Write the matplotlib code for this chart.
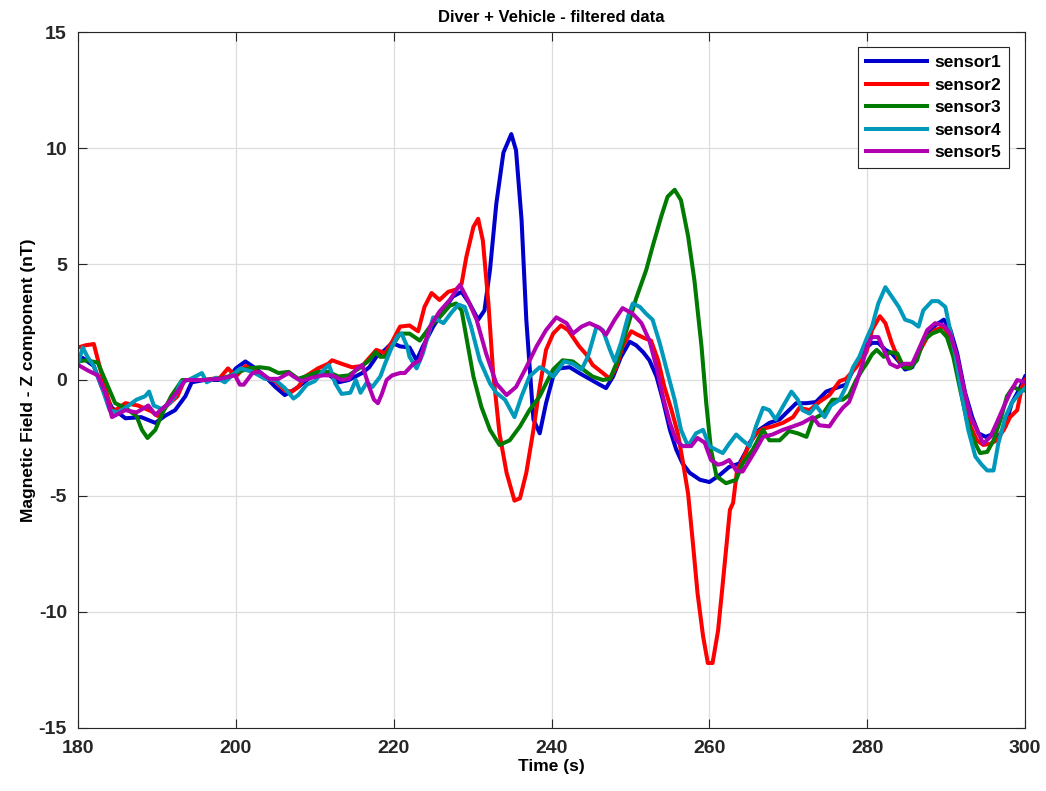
import matplotlib
matplotlib.use("Agg")
import matplotlib.pyplot as plt

plt.rcParams['font.family'] = ['Liberation Sans', 'DejaVu Sans']
plt.rcParams['font.weight'] = 'bold'
plt.rcParams['axes.unicode_minus'] = False

# ---- sensor traces: time (s) and Z-component field (nT) ----
t1 = [180, 180.6, 182, 183, 184.3, 186, 188, 189.8, 191, 192.3, 193.6, 194.4, 196, 198, 199, 200,
      201.2, 202.5, 203.7, 205, 206.2, 207, 207.9, 209.2, 210.4, 211.7, 213, 214.3, 216, 216.9,
      217.8, 218.9, 219.8, 220.8, 222, 222.9, 223.7, 225, 226.3, 227.5, 228.6, 229.6, 230.7,
      231.5, 232.2, 233, 233.9, 234.9, 235.5, 236.2, 236.8, 237.7, 238.5, 239.3, 240.2, 241,
      242.3, 243.5, 244.8, 246.1, 246.9, 247.8, 248.8, 249.9, 250.7, 251.6, 252.4, 253.3, 254.1,
      255, 255.8, 256.6, 257.5, 258.8, 260, 261.3, 262.5, 263.8, 264.6, 265.1, 266.3, 267.6,
      268.9, 270.1, 271, 272.3, 273.5, 274.8, 276, 277.3, 278.6, 279.9, 280.6, 281.4, 282.3,
      283.1, 284, 284.8, 285.7, 286.5, 287.6, 288.6, 289.7, 290.5, 291.4, 292.4, 293.3, 294.1,
      295, 295.8, 296.6, 297.5, 298.3, 299.2, 300]
s1 = [0.85, 0.95, 0.6, -0.3, -1.2, -1.65, -1.6, -1.85, -1.55, -1.3, -0.7, -0.1, 0.0, 0.0, 0.05, 0.5,
      0.8, 0.5, 0.15, -0.3, -0.65, -0.5, -0.3, 0.05, 0.3, 0.25, -0.1, 0.0, 0.3, 0.55,
      1.0, 1.3, 1.6, 1.45, 1.4, 0.85, 1.45, 2.3, 3.0, 3.6, 3.8, 3.3, 2.6,
      3.0, 4.75, 7.6, 9.8, 10.6, 9.9, 6.9, 2.6, -1.7, -2.3, -1.0, 0.15, 0.5,
      0.55, 0.3, 0.05, -0.2, -0.35, 0.15, 1.0, 1.65, 1.5, 1.2, 0.85, 0.15, -0.85,
      -2.15, -3.0, -3.6, -4.0, -4.3, -4.4, -4.1, -3.75, -3.6, -3.1, -2.7, -2.15, -1.85,
      -1.7, -1.3, -1.0, -1.0, -0.95, -0.5, -0.35, -0.2, 0.7, 1.4, 1.6, 1.6, 1.3,
      1.15, 0.8, 0.45, 0.55, 1.15, 2.0, 2.35, 2.6, 2.2, 1.15, -0.55, -1.6, -2.3,
      -2.45, -2.35, -2.45, -2.0, -1.0, -0.45, 0.15]

t2 = [180, 181, 182, 182.8, 184.3, 186, 187.6, 189.3, 190.1, 191.3, 192.6, 193.5, 196, 198, 199,
      200, 201.2, 202.5, 203.7, 205, 206.2, 207.1, 207.9, 208.8, 210.4, 211.7, 212.2, 213.4,
      214.7, 216, 216.9, 217.8, 218.9, 219.8, 220.8, 222, 223.1, 223.9, 224.8, 225.8, 226.9,
      227.9, 228.6, 229.2, 230.1, 230.7, 231.3, 232, 232.6, 233.4, 234.3, 235.3, 236, 236.8,
      237.7, 238.5, 239.3, 240.2, 241.2, 242.1, 243.5, 244.4, 245.2, 246.5, 247.4, 248.2, 249,
      250.1, 250.9, 251.8, 252.6, 253.5, 254.3, 255.2, 256, 256.6, 257.3, 257.9, 258.5, 259.2,
      259.8, 260.4, 261.1, 261.7, 262.6, 263, 263.5, 264.2, 265.1, 265.9, 266.8, 268, 269.3,
      270.6, 271.4, 272.7, 273.9, 275.2, 276.5, 277.3, 278.6, 279.9, 280.6, 281.6, 282.3,
      283.1, 284, 284.8, 285.7, 286.5, 287.6, 288.6, 289.7, 290.5, 291.4, 292.2, 293.1, 293.9,
      294.7, 295.6, 296.4, 297.3, 298.1, 299, 299.6, 300]
s2 = [1.4, 1.5, 1.55, 0.5, -1.4, -1.0, -1.1, -1.35, -1.55, -1.1, -0.7, 0.0, 0.0, 0.1, 0.5,
      0.15, 0.6, 0.4, 0.1, -0.05, -0.45, -0.5, -0.3, 0.15, 0.5, 0.7, 0.85, 0.7,
      0.55, 0.6, 0.95, 1.3, 1.15, 1.65, 2.3, 2.35, 2.1, 3.15, 3.75, 3.45, 3.8,
      3.9, 4.15, 5.3, 6.6, 6.95, 6.0, 3.3, 0.3, -2.3, -4.0, -5.2, -5.1, -4.0,
      -2.15, -0.3, 1.3, 2.0, 2.35, 2.15, 1.45, 1.1, 0.65, 0.3, 0.05, 0.55, 1.45,
      2.1, 1.95, 1.8, 1.7, 0.85, -0.3, -1.3, -2.3, -3.45, -4.9, -7.0, -9.2, -11.05,
      -12.2, -12.2, -10.8, -8.75, -5.6, -5.3, -3.9, -3.45, -2.75, -2.3, -2.1, -2.0, -1.85,
      -1.6, -1.2, -1.3, -0.95, -0.65, -0.05, 0.05, 0.55, 1.2, 2.15, 2.75, 2.45,
      1.6, 0.85, 0.55, 0.65, 1.15, 1.85, 2.15, 2.3, 1.85, 0.85, -0.85, -2.0, -2.6,
      -2.8, -2.75, -2.6, -2.15, -1.6, -1.3, -0.3, 0.0]

t3 = [180, 181, 182.5, 184.7, 186, 187.4, 188.1, 188.8, 189.8, 190.6, 191.8, 193.2, 196, 198,
      199.5, 200, 201.6, 203, 204.2, 205.4, 206.7, 207.9, 209.2, 210.4, 211.7, 213, 214.3,
      215.6, 216.9, 217.7, 218.3, 218.9, 219.8, 220.8, 222, 223.3, 224.6, 225.8, 227.1, 227.9,
      228.6, 229.2, 230.1, 231.1, 232.2, 233.4, 234.7, 236, 237.2, 238.5, 239.3, 240.2, 241.4,
      242.7, 244, 245.2, 246.5, 247.4, 248.2, 249.5, 250.7, 252, 252.8, 253.9, 254.7, 255.6,
      256.4, 257.3, 258.1, 259, 259.6, 260.2, 260.9, 262.1, 263.4, 264.2, 265.5, 266.8, 267.6,
      268.9, 270.1, 271.2, 272.3, 273.1, 274.4, 275.6, 276.9, 277.7, 278.6, 279.4, 280, 280.6,
      281.2, 282.1, 282.9, 283.8, 284.6, 285.4, 286.3, 287.1, 288.2, 289.3, 290.1, 290.9,
      291.8, 292.6, 293.5, 294.3, 295.2, 296, 296.9, 297.7, 298.5, 299.4, 300]
s3 = [0.8, 0.85, 0.75, -1.0, -1.2, -1.55, -2.15, -2.5, -2.15, -1.5, -0.7, 0.0, 0.0, 0.05,
      0.2, 0.3, 0.5, 0.55, 0.5, 0.3, 0.35, 0.05, 0.2, 0.35, 0.35, 0.15, 0.2,
      0.5, 0.85, 1.2, 1.0, 1.0, 1.45, 2.0, 2.0, 1.7, 2.3, 2.7, 3.2, 3.3,
      3.0, 1.85, 0.15, -1.15, -2.15, -2.8, -2.6, -2.0, -1.3, -0.7, -0.15, 0.45, 0.85,
      0.8, 0.45, 0.15, 0.0, 0.05, 0.7, 2.15, 3.5, 4.75, 5.75, 7.05, 7.9, 8.2,
      7.75, 6.2, 4.3, 1.45, -1.0, -3.0, -4.15, -4.45, -4.3, -3.6, -3.0, -2.15, -2.6,
      -2.6, -2.2, -2.3, -2.45, -1.7, -1.45, -0.85, -0.85, -0.65, 0.0, 0.45, 0.75, 1.1,
      1.3, 1.0, 1.2, 1.15, 0.55, 0.5, 0.85, 1.7, 2.0, 2.15, 1.85, 1.0,
      -0.45, -1.7, -2.6, -3.15, -3.1, -2.6, -1.7, -0.7, -0.3, -0.45, -0.45]

t4 = [180, 180.6, 181.2, 182, 183, 184, 185, 186, 187.4, 188.5, 189, 189.6, 190.6, 191.6, 192.3,
      193, 194, 195.7, 196.3, 197.5, 198.6, 199.5, 200, 200.6, 202.1, 203.7, 205, 206.2, 207.3,
      207.9, 209, 210, 211.3, 211.8, 212.6, 213.4, 214.5, 215.2, 215.8, 216.6, 217.3, 218.3,
      218.9, 219.8, 220.5, 221, 221.7, 222, 222.9, 223.7, 225, 226.3, 227.3, 228.2, 229, 229.8,
      230.9, 232.2, 233, 234.1, 235.3, 236.2, 237.2, 238.5, 239.3, 240.2, 241.6, 242.7, 243.8,
      244.6, 245.7, 246.5, 247.4, 248, 248.8, 249.7, 250.3, 251.2, 252, 252.8, 253.7, 254.7,
      255.6, 256.4, 257.3, 258.3, 259.2, 260, 260.8, 261.7, 262.5, 263.4, 264.2, 265.1, 265.9,
      266.8, 267.6, 268.4, 269.3, 270.4, 271.2, 271.8, 272.7, 273.5, 274.6, 275.4, 276.5,
      277.3, 278.2, 279, 280, 280.6, 281.4, 282.3, 283.1, 284, 284.8, 285.7, 286.5, 287.1,
      288.2, 289, 289.9, 290.5, 291.2, 292, 292.8, 293.7, 294.5, 295.2, 296, 296.6, 297.5,
      298.3, 299.2, 300]
s4 = [0.7, 1.4, 1.0, 0.6, -0.3, -1.3, -1.4, -1.2, -0.85, -0.7, -0.5, -1.1, -1.25, -1.0, -0.7,
      -0.1, 0.0, 0.3, -0.1, 0.1, -0.1, 0.2, 0.35, 0.5, 0.35, 0.05, 0.0, -0.35, -0.8,
      -0.65, -0.2, -0.05, 0.5, 0.65, -0.15, -0.6, -0.55, 0.0, -0.55, -0.1, -0.3, 0.15,
      0.7, 1.45, 1.9, 2.0, 1.45, 1.0, 0.5, 1.15, 2.7, 2.45, 2.9, 3.25, 3.15, 2.3,
      0.85, -0.15, -0.55, -0.85, -1.6, -0.7, 0.15, 0.55, 0.4, 0.15, 0.8, 0.7, 0.45,
      1.0, 2.3, 2.15, 1.3, 0.8, 1.6, 2.75, 3.3, 3.15, 2.85, 2.6, 1.6, 0.3,
      -0.85, -2.15, -2.85, -2.3, -2.15, -2.85, -3.0, -3.15, -2.75, -2.35, -2.6, -2.85, -2.0,
      -1.2, -1.3, -1.7, -1.15, -0.5, -0.85, -1.3, -1.45, -1.1, -1.6, -1.1, -0.85,
      -0.3, 0.55, 1.0, 1.85, 2.3, 3.3, 4.0, 3.6, 3.15, 2.6, 2.5, 2.3, 3.0,
      3.4, 3.4, 3.15, 2.15, 1.0, -0.7, -2.15, -3.3, -3.65, -3.9, -3.9, -2.75, -1.6,
      -1.0, -0.6, -0.35]

t5 = [180, 181.3, 182.5, 183.5, 184.3, 186, 187.4, 188.9, 189.8, 191.3, 192.6, 193.6, 196, 198,
      199.9, 200.5, 201, 202.1, 203, 204.2, 205.4, 206.7, 207.3, 208.3, 209.6, 211, 212.2,
      213.4, 214.3, 215.2, 216, 216.9, 217.5, 218, 218.5, 219.1, 219.8, 220.8, 221.4, 222.5,
      223.3, 224.6, 225.8, 227.1, 228.4, 229.4, 230.5, 231.7, 233, 234.3, 235.5, 236.8, 238.1,
      239.3, 240.6, 241.9, 242.7, 243.8, 244.8, 246.1, 246.9, 248, 249, 250.3, 251.4, 252.4,
      253.3, 254.1, 255, 255.8, 256.6, 257.7, 258.5, 259.4, 260.2, 261.1, 261.7, 262.5, 263.4,
      264.2, 265.1, 265.9, 266.8, 268, 269.3, 270.6, 271.8, 273.1, 273.9, 275.2, 276, 276.9,
      277.7, 278.6, 279.4, 280, 280.6, 281.4, 282.1, 282.9, 283.8, 284.6, 285.7, 286.5, 287.6,
      288.6, 289.7, 290.5, 291.4, 292.2, 293.1, 293.9, 294.7, 295.6, 296.4, 297.3, 298.1, 299,
      300]
s5 = [0.65, 0.4, 0.2, -0.6, -1.6, -1.3, -1.4, -1.1, -1.5, -1.05, -0.5, 0.0, 0.0, 0.05,
      0.2, -0.2, -0.2, 0.3, 0.35, 0.05, 0.05, 0.3, 0.15, -0.05, 0.1, 0.2, 0.2,
      0.0, 0.05, 0.45, 0.65, -0.3, -0.85, -1.0, -0.6, 0.0, 0.2, 0.3, 0.3, 0.7,
      0.85, 2.3, 2.95, 3.45, 4.1, 3.45, 2.6, 1.15, -0.15, -0.65, -0.3, 0.55, 1.45,
      2.15, 2.7, 2.45, 2.0, 2.3, 2.45, 2.25, 1.95, 2.6, 3.1, 2.85, 2.45, 1.7,
      0.55, -0.7, -1.85, -2.6, -2.85, -2.85, -2.5, -2.7, -3.45, -3.65, -3.6, -3.45, -3.9,
      -3.95, -3.45, -3.0, -2.45, -2.35, -2.15, -2.0, -1.85, -1.6, -1.95, -2.0, -1.6, -1.2,
      -0.95, -0.15, 0.7, 1.5, 1.85, 1.85, 1.3, 0.7, 0.55, 0.7, 0.7, 1.3, 2.15,
      2.45, 2.35, 2.0, 1.0, -0.3, -1.6, -2.15, -2.75, -2.45, -1.85, -1.15, -0.55, 0.0,
      -0.1]

labels = ['sensor1', 'sensor2', 'sensor3', 'sensor4', 'sensor5']
colors = ['#0000CC', '#FF0000', '#007A00', '#0099BB', '#B000B0']

x_ticks = [180, 200, 220, 240, 260, 280, 300]
y_ticks = [-15, -10, -5, 0, 5, 10, 15]

fig = plt.figure(figsize=(10.46, 7.91), dpi=100)
ax = fig.add_axes([0.0746, 0.0797, 0.9054, 0.8798])

for t, s, lab, col in zip([t1, t2, t3, t4, t5], [s1, s2, s3, s4, s5], labels, colors):
    ax.plot(t, s, color=col, lw=2.9, label=lab, solid_joinstyle='round')

ax.set_xlim(180, 300)
ax.set_ylim(-15, 15)
ax.set_xticks(x_ticks)
ax.set_yticks(y_ticks)
ax.grid(True, color='#DDDDDD', lw=0.9)
ax.set_axisbelow(True)
ax.tick_params(direction='in', length=6.5, width=0.8, top=True, right=True,
               labelsize=14, colors='#262626')
ax.tick_params(axis='x', pad=9)
ax.tick_params(axis='y', pad=8)
for lab in ax.get_xticklabels() + ax.get_yticklabels():
    lab.set_fontweight('bold')
for sp in ax.spines.values():
    sp.set_color('#262626')
    sp.set_linewidth(0.8)

ax.set_title('Diver + Vehicle - filtered data', fontsize=12, fontweight='bold', pad=7)
ax.set_xlabel('Time (s)', fontsize=12.5, fontweight='bold', labelpad=1)
ax.set_ylabel('Magnetic Field - Z component (nT)', fontsize=12.5, fontweight='bold', labelpad=2)

leg = ax.legend(loc='upper right', bbox_to_anchor=(0.983, 0.978), borderaxespad=0,
                fancybox=False, framealpha=1, edgecolor='#262626', handlelength=3.5,
                labelspacing=0.42, handletextpad=0.45, borderpad=0.45,
                prop={'weight': 'bold', 'size': 12.5})
leg.get_frame().set_linewidth(0.8)

fig.savefig('out.png', dpi=100)
